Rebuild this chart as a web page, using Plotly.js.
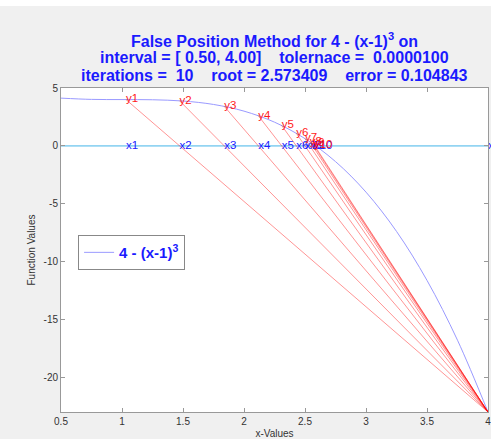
<!DOCTYPE html>
<html>
<head>
<meta charset="utf-8">
<script src="https://cdn.plot.ly/plotly-3.0.1.min.js"></script>
<style>
html,body{margin:0;padding:0;}
body{background:linear-gradient(#ffffff 0px,#ffffff 6px,#f0f0f0 6px,#f0f0f0 100%);width:491px;height:439px;overflow:hidden;}
#chart{width:491px;height:439px;}
</style>
</head>
<body>
<div id="chart"></div>
<script>
// Function curve samples
const curveX = [0.5, 0.75, 1.0, 1.25, 1.5, 1.75, 2.0, 2.25, 2.5, 2.75, 3.0, 3.25, 3.5, 3.75, 4.0];
const curveY = [4.125, 4.016, 4.0, 3.984, 3.875, 3.578, 3.0, 2.047, 0.625, -1.359, -4.0, -7.391, -11.625, -16.797, -23.0];

// False position iterates
const iterX = [1.0323, 1.4719, 1.8380, 2.1173, 2.3088, 2.4289, 2.4995, 2.5394, 2.5614, 2.5734];
const iterY = [4.000, 3.895, 3.411, 2.605, 1.758, 1.082, 0.628, 0.352, 0.193, 0.105];
const xLabels = ['x1','x2','x3','x4','x5','x6','x7','x8','x9','x10'];
const yLabels = ['y1','y2','y3','y4','y5','y6','y7','y8','y9','y10'];

// Fixed endpoint
const endX = [4.0];
const endY = [-23.0];
const endLabel = ['xb'];

// Zero line extent
const zeroX = [0.5, 4.0];
const zeroY = [0, 0];

const xTicks = [0.5, 1, 1.5, 2, 2.5, 3, 3.5, 4];
const xTickText = ['0.5', '1', '1.5', '2', '2.5', '3', '3.5', '4'];
const yTicks = [5, 0, -5, -10, -15, -20];
const yTickText = ['5', '0', '-5', '-10', '-15', '-20'];

// Title lines
const titleLines = [
  'False Position Method for 4 - (x-1)<sup>3</sup> on',
  'interval = [ 0.50, 4.00]    tolernace =  0.0000100',
  'iterations =  10    root = 2.573409    error = 0.104843'
];
const titleY = [1.148, 1.093, 1.040];

// Build secant segments
const segX = [], segY = [];
for (let i = 0; i < iterX.length; i++) {
  segX.push(iterX[i], endX[0], null);
  segY.push(iterY[i], endY[0], null);
}

const FONT = 'Liberation Sans, Arial, sans-serif';

const traces = [
  {x: zeroX, y: zeroY, mode: 'lines', line: {color: '#93d4f2', width: 1.6}, showlegend: false, hoverinfo: 'skip'},
  {x: curveX, y: curveY, mode: 'lines', line: {color: '#9a9aff', width: 1, shape: 'spline'},
   name: '<b>4 - (x-1)<sup>3</sup></b>', showlegend: true},
  {x: segX, y: segY, mode: 'lines', line: {color: 'rgba(255,0,0,0.42)', width: 1}, showlegend: false, hoverinfo: 'skip'},
  {x: iterX, y: iterX.map(() => 0), mode: 'text', text: xLabels, textposition: 'middle right',
   textfont: {family: FONT, size: 11.5, color: '#2020ff'}, showlegend: false, cliponaxis: false},
  {x: iterX, y: iterY, mode: 'text', text: yLabels, textposition: 'middle right',
   textfont: {family: FONT, size: 11.5, color: '#ff1a1a'}, showlegend: false, cliponaxis: false},
  {x: endX, y: [0], mode: 'text', text: endLabel, textposition: 'middle right',
   textfont: {family: FONT, size: 11.5, color: '#2020ff'}, showlegend: false, cliponaxis: false}
];

const annotations = titleLines.map((t, i) => ({
  text: t, xref: 'paper', yref: 'paper', x: 0.5, y: titleY[i],
  xanchor: 'center', yanchor: 'middle', showarrow: false,
  font: {family: FONT, size: 16, color: '#1a1aff', weight: 'bold'}
}));

const layout = {
  width: 491, height: 439,
  paper_bgcolor: 'rgba(0,0,0,0)',
  plot_bgcolor: '#ffffff',
  margin: {l: 61, r: 3, t: 88, b: 27, pad: 0},
  font: {family: FONT, color: '#333333'},
  annotations: annotations,
  xaxis: {
    range: [0.5, 4], tickvals: xTicks, ticktext: xTickText,
    ticks: 'inside', ticklen: 4, tickcolor: '#999999', mirror: 'allticks',
    showline: true, linecolor: '#999999', linewidth: 1, showgrid: false, zeroline: false,
    tickfont: {size: 10, color: '#333333'}, ticklabeloverflow: 'allow',
    title: {text: 'x-Values', font: {size: 10, color: '#333333'}, standoff: 4}
  },
  yaxis: {
    range: [-23, 5], tickvals: yTicks, ticktext: yTickText,
    ticks: 'inside', ticklen: 4, tickcolor: '#999999', mirror: 'allticks',
    showline: true, linecolor: '#999999', linewidth: 1, showgrid: false, zeroline: false,
    tickfont: {size: 10, color: '#333333'},
    title: {text: 'Function Values', font: {size: 10, color: '#333333'}, standoff: 6}
  },
  showlegend: true,
  legend: {
    x: 0.04, y: 0.546, xanchor: 'left', yanchor: 'top',
    bgcolor: '#ffffff', bordercolor: '#888888', borderwidth: 1,
    font: {size: 15, color: '#1a1aff'}
  }
};

Plotly.newPlot('chart', traces, layout, {displayModeBar: false, staticPlot: true});
</script>
</body>
</html>
